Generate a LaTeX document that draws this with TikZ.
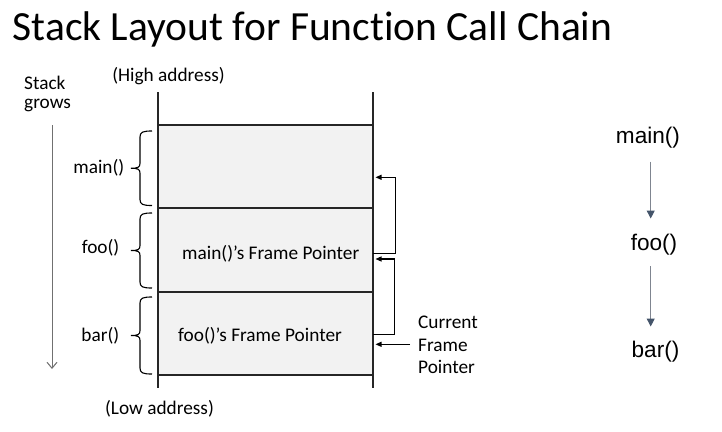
\documentclass[tikz,border=0pt]{standalone}
\usepackage{fontspec}
\setmainfont{Carlito}[Ligatures={NoCommon}]
\newfontfamily\arialfont{Liberation Sans}
\usetikzlibrary{arrows.meta}
\definecolor{cellgray}{HTML}{F2F2F2}
\definecolor{linedark}{HTML}{262626}
\definecolor{growgray}{HTML}{707070}
\definecolor{chainline}{HTML}{7F8590}
\definecolor{chainhead}{HTML}{44546A}
\tikzset{
  lbl/.style={inner sep=0pt, font=\fontsize{19.3}{22}\selectfont},
  chainlbl/.style={inner sep=0pt, font=\arialfont\fontsize{22.6}{26}\selectfont},
  stackwall/.style={draw=linedark, line width=1.4pt},
  cellline/.style={draw=linedark, line width=1.1pt},
  bracestyle/.style={draw=black, line width=1.1pt},
  fparrow/.style={draw=black, line width=1.1pt, -{Triangle[length=6pt,width=5pt]}},
  growarrow/.style={draw=growgray, line width=1pt, -{Straight Barb[length=6pt,width=10pt]}},
  chainarrow/.style={draw=chainline, line width=1pt, -{Triangle[length=8pt,width=8pt,fill=chainhead,color=chainhead]}}
}
\newcommand{\fnbrace}[2]{% top y, bottom y
  \draw[bracestyle] (152,#1) .. controls (143,#1) and (140,#1+1) .. (140,#1+6)
    -- (140,{(#1+#2)/2-5}) .. controls (140,{(#1+#2)/2-1}) and (138,{(#1+#2)/2}) .. (131,{(#1+#2)/2})
    (131,{(#1+#2)/2}) .. controls (138,{(#1+#2)/2}) and (140,{(#1+#2)/2+1}) .. (140,{(#1+#2)/2+5})
    -- (140,#2-6) .. controls (140,#2-1) and (143,#2) .. (152,#2);}
\begin{document}
\begin{tikzpicture}[x=1pt,y=-1pt]
\useasboundingbox (0,0) rectangle (722,431);
% title
\node[anchor=base west, inner sep=0pt, font=\fontsize{41.5}{48}\selectfont] (title) at (12.5,40) {Stack Layout for Function Call Chain};
% stack grows
\node[lbl, anchor=west] (stk) at (24,83) {Stack};
\node[lbl, anchor=west] (grw) at (24,105) {grows};
\coordinate (gs) at (52,125);
\coordinate (ge) at (52,369);
\draw[growarrow] (gs) -- (ge);
% cells
\fill[cellgray] (158,125) rectangle (373,375);
\draw[stackwall] (158,92) -- (158,388);
\draw[stackwall] (373,92) -- (373,388);
\foreach \yy in {125,208,292,375} \draw[cellline] (158,\yy) -- (373,\yy);
\node[lbl, anchor=center] (high) at (168.5,76) {(High address)};
\node[lbl, anchor=center] (low) at (159.5,409) {(Low address)};
\node[lbl, anchor=west] (fpm) at (182,254) {main()’s Frame Pointer};
\node[lbl, anchor=west] (fpf) at (178,336) {foo()’s Frame Pointer};
% braces and labels
\fnbrace{131}{205.5}
\fnbrace{213}{288}
\fnbrace{297}{374}
\node[lbl, anchor=east] (lmain) at (124.5,168) {main()};
\node[lbl, anchor=east] (lfoo) at (119.5,248) {foo()};
\node[lbl, anchor=east] (lbar) at (119.5,336) {bar()};
% frame pointer links
\coordinate (a1) at (373,253.3);
\coordinate (a1t) at (375.5,177.3);
\coordinate (a2) at (373,334.3);
\coordinate (a2t) at (375.5,259);
\coordinate (cfp) at (410,344.3);
\coordinate (cfpt) at (375.5,344.3);
\draw[fparrow] (a1) -| (395.5,177.3) -- (a1t);
\draw[fparrow] (a2) -| (394.5,259) -- (a2t);
\draw[fparrow] (cfp) -- (cfpt);
\node[lbl, anchor=west] (cur) at (418,322.7) {Current};
\node[lbl, anchor=west] (frm) at (418,345) {Frame};
\node[lbl, anchor=west] (ptr) at (418,367.3) {Pointer};
% call chain
\node[chainlbl] (cmain) at (648,138) {main()};
\node[chainlbl] (cfoo) at (654,245) {foo()};
\node[chainlbl] (cbar) at (655.5,352) {bar()};
\draw[chainarrow] (650.7,161.7) -- (650.7,218.5);
\draw[chainarrow] (650.7,266) -- (650.7,326.5);
\end{tikzpicture}
\end{document}
